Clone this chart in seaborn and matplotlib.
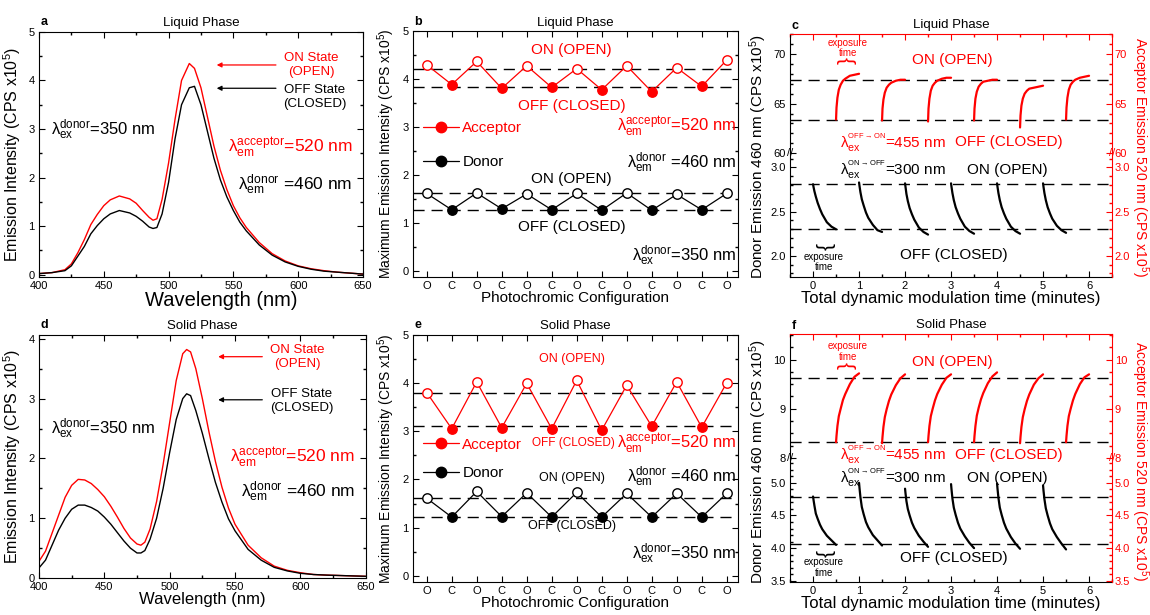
import matplotlib
matplotlib.use('Agg')
import pandas as pd
import matplotlib.pyplot as plt
import seaborn as sns
from matplotlib.ticker import MultipleLocator
from matplotlib.lines import Line2D

# ---- emission spectra (x10^5 CPS) ----
wl_liq = [400, 410, 420, 425, 430, 435, 440, 445, 450, 455, 462, 470, 475, 480, 485, 488, 491, 495,
          500, 505, 510, 516, 520, 525, 530, 535, 540, 545, 550, 555, 560, 570, 580, 590, 600,
          610, 620, 630, 640, 650]
liq_on = [0.02, 0.04, 0.10, 0.22, 0.45, 0.72, 1.03, 1.24, 1.42, 1.54, 1.62, 1.56, 1.47, 1.32, 1.18,
          1.12, 1.15, 1.55, 2.30, 3.20, 4.00, 4.35, 4.25, 3.85, 3.25, 2.65, 2.15, 1.75, 1.42, 1.17,
          0.97, 0.66, 0.43, 0.28, 0.18, 0.12, 0.08, 0.05, 0.03, 0.01]
liq_off = [0.02, 0.04, 0.08, 0.18, 0.38, 0.58, 0.84, 1.01, 1.15, 1.25, 1.32, 1.27, 1.20, 1.10, 0.98,
           0.95, 0.97, 1.25, 1.90, 2.80, 3.50, 3.85, 3.88, 3.50, 2.95, 2.40, 1.95, 1.60, 1.32, 1.08,
           0.90, 0.61, 0.40, 0.26, 0.17, 0.11, 0.07, 0.05, 0.03, 0.01]

wl_sol = [400, 405, 410, 415, 420, 425, 430, 435, 440, 445, 450, 455, 460, 465, 470, 475, 478, 481,
          485, 490, 495, 500, 505, 510, 513, 516, 520, 525, 530, 535, 540, 545, 550, 560, 570, 580,
          590, 600, 610, 620, 635, 650]
sol_on = [0.28, 0.45, 0.75, 1.05, 1.35, 1.55, 1.65, 1.64, 1.58, 1.48, 1.36, 1.20, 1.02, 0.83, 0.67,
          0.57, 0.55, 0.60, 0.82, 1.28, 1.90, 2.60, 3.30, 3.75, 3.82, 3.78, 3.50, 3.00, 2.45, 1.95,
          1.52, 1.17, 0.90, 0.55, 0.34, 0.20, 0.13, 0.09, 0.06, 0.05, 0.04, 0.03]
sol_off = [0.17, 0.30, 0.55, 0.80, 1.00, 1.15, 1.22, 1.22, 1.18, 1.12, 1.02, 0.90, 0.76, 0.62, 0.50,
           0.42, 0.42, 0.46, 0.65, 1.00, 1.50, 2.10, 2.65, 3.00, 3.08, 3.05, 2.80, 2.42, 2.00, 1.60,
           1.27, 0.99, 0.79, 0.48, 0.30, 0.18, 0.12, 0.08, 0.06, 0.05, 0.04, 0.03]

# ---- maximum emission vs configuration ----
config = ['O', 'C', 'O', 'C', 'O', 'C', 'O', 'C', 'O', 'C', 'O', 'C', 'O']
liq_acc = [4.30, 3.89, 4.37, 3.81, 4.28, 3.83, 4.22, 3.78, 4.28, 3.74, 4.24, 3.85, 4.40]
liq_don = [1.62, 1.28, 1.63, 1.30, 1.61, 1.28, 1.62, 1.27, 1.63, 1.27, 1.60, 1.28, 1.62]
sol_acc = [3.80, 3.05, 4.02, 3.07, 3.99, 3.05, 4.05, 3.02, 3.95, 3.10, 4.02, 3.08, 4.00]
sol_don = [1.61, 1.22, 1.75, 1.23, 1.72, 1.22, 1.73, 1.22, 1.71, 1.22, 1.71, 1.22, 1.71]
liq_levels = [4.22, 3.83, 1.62, 1.28]
sol_levels = [3.80, 3.10, 1.61, 1.22]

# ---- dynamic modulation traces ----
t_rel = [0, 0.01, 0.03, 0.06, 0.1, 0.15, 0.2, 0.3, 0.4, 0.5]
acc_start = [0.5, 1.5, 2.5, 3.5, 4.5, 5.5]
don_start = [0, 1, 2, 3, 4, 5]
liq_acc_kin = [
    [63.4, 64.6, 65.6, 66.4, 66.9, 67.3, 67.5, 67.8, 67.9, 68.0],
    [63.3, 64.5, 65.4, 66.1, 66.6, 66.9, 67.1, 67.3, 67.4, 67.4],
    [63.2, 64.5, 65.5, 66.3, 66.8, 67.1, 67.3, 67.5, 67.6, 67.6],
    [63.3, 64.5, 65.5, 66.2, 66.7, 67.0, 67.2, 67.3, 67.4, 67.4],
    [62.6, 63.8, 64.8, 65.5, 66.0, 66.3, 66.5, 66.6, 66.7, 66.8],
    [63.4, 64.6, 65.6, 66.4, 66.9, 67.2, 67.4, 67.6, 67.7, 67.8],
]
liq_don_kin = [
    [2.81, 2.78, 2.73, 2.67, 2.60, 2.53, 2.47, 2.38, 2.33, 2.30],
    [2.83, 2.79, 2.72, 2.64, 2.57, 2.49, 2.43, 2.35, 2.29, 2.27],
    [2.82, 2.78, 2.70, 2.62, 2.54, 2.47, 2.41, 2.32, 2.27, 2.24],
    [2.82, 2.78, 2.71, 2.63, 2.55, 2.48, 2.42, 2.33, 2.28, 2.25],
    [2.82, 2.78, 2.71, 2.63, 2.55, 2.48, 2.42, 2.33, 2.28, 2.25],
    [2.82, 2.78, 2.71, 2.63, 2.55, 2.48, 2.42, 2.34, 2.29, 2.26],
]
sol_acc_kin = [
    [8.32, 8.45, 8.65, 8.85, 9.00, 9.18, 9.30, 9.50, 9.65, 9.72],
    [8.30, 8.43, 8.63, 8.83, 8.99, 9.16, 9.29, 9.48, 9.62, 9.70],
    [8.32, 8.45, 8.65, 8.85, 9.00, 9.17, 9.30, 9.49, 9.63, 9.70],
    [8.32, 8.45, 8.65, 8.86, 9.02, 9.19, 9.32, 9.52, 9.66, 9.74],
    [8.30, 8.43, 8.63, 8.83, 8.99, 9.16, 9.29, 9.49, 9.62, 9.70],
    [8.32, 8.45, 8.65, 8.85, 9.00, 9.17, 9.30, 9.50, 9.64, 9.70],
]
sol_don_kin = [
    [4.79, 4.74, 4.65, 4.53, 4.45, 4.36, 4.29, 4.19, 4.12, 4.05],
    [5.00, 4.92, 4.78, 4.63, 4.52, 4.40, 4.32, 4.20, 4.12, 4.04],
    [4.91, 4.84, 4.72, 4.60, 4.50, 4.39, 4.31, 4.19, 4.10, 4.02],
    [4.98, 4.90, 4.76, 4.62, 4.51, 4.39, 4.30, 4.18, 4.08, 4.00],
    [4.99, 4.91, 4.77, 4.62, 4.51, 4.39, 4.30, 4.17, 4.07, 3.99],
    [4.96, 4.88, 4.75, 4.61, 4.50, 4.38, 4.29, 4.17, 4.07, 3.98],
]
liq_kin_levels = ([67.4, 63.4], [2.81, 2.30])
sol_kin_levels = ([9.62, 8.32], [4.78, 4.065])

sns.set_theme(style='ticks', rc={
    'axes.edgecolor': 'black', 'axes.linewidth': 0.8, 'xtick.color': 'black',
    'ytick.color': 'black', 'text.color': 'black', 'axes.labelcolor': 'black',
    'xtick.direction': 'in', 'ytick.direction': 'in',
    'xtick.major.size': 4, 'ytick.major.size': 4, 'xtick.minor.size': 2, 'ytick.minor.size': 2,
    'xtick.major.width': 0.8, 'ytick.major.width': 0.8,
    'xtick.labelsize': 8, 'ytick.labelsize': 8,
    'xtick.major.pad': 3, 'ytick.major.pad': 3,
})
plt.rcParams['font.family'] = ['Liberation Sans', 'DejaVu Sans']
plt.rcParams['mathtext.fontset'] = 'custom'
plt.rcParams['mathtext.rm'] = 'Liberation Sans'
plt.rcParams['mathtext.default'] = 'regular'

RED = '#ff0000'
DASH = (8, 5)

fig = plt.figure(figsize=(11.5, 6.15), dpi=100)


def head(ax, letter, title):
    ax.text(0.005, 1.015, letter, transform=ax.transAxes, fontsize=9, fontweight='bold',
            ha='left', va='bottom')
    ax.set_title(title, fontsize=9.5, pad=4)


def all_ticks(ax):
    ax.tick_params(which='both', top=True, right=True)


def spectrum_panel(rect, wl, on, off, letter, title, ylim, yticks, lab):
    ax = fig.add_axes(rect)
    df = pd.DataFrame({'wl': wl * 2, 'I': on + off,
                       'state': ['ON'] * len(wl) + ['OFF'] * len(wl)})
    sns.lineplot(data=df, x='wl', y='I', hue='state', palette={'ON': RED, 'OFF': 'black'},
                 estimator=None, sort=False, lw=1.0, legend=False, ax=ax)
    ax.set_xlim(400, 650)
    ax.set_ylim(*ylim)
    ax.set_yticks(yticks)
    ax.xaxis.set_major_locator(MultipleLocator(50))
    ax.xaxis.set_minor_locator(MultipleLocator(25))
    ax.yaxis.set_minor_locator(MultipleLocator(0.5))
    all_ticks(ax)
    ax.set_xlabel('Wavelength (nm)', fontsize=lab['xl_fs'], labelpad=0)
    ax.xaxis.label.set_x(lab['xl_x'])
    ax.set_ylabel('Emission Intensity (CPS x10$^5$)', fontsize=11.5, labelpad=4)
    head(ax, letter, title)
    ax.annotate('', xy=(535, lab['on_y']), xytext=(lab['arr_x'], lab['on_y']),
                arrowprops=dict(arrowstyle='-|>', color=RED, lw=0.9, mutation_scale=7))
    ax.annotate('', xy=(535, lab['off_y']), xytext=(lab['arr_x'], lab['off_y']),
                arrowprops=dict(arrowstyle='-|>', color='black', lw=0.9, mutation_scale=7))
    ax.text(lab['txt_x'], lab['on_y'], 'ON State\n(OPEN)', color=RED, fontsize=9.5,
            ha='center', va='center', linespacing=1.25)
    ax.text(lab['txt_x'] + 3, lab['off_ty'], 'OFF State\n(CLOSED)', color='black', fontsize=9.5,
            ha='center', va='center', linespacing=1.25)
    ax.text(409, lab['ex_y'], r'$\lambda_{ex}^{donor}$=350 nm', fontsize=12, va='center')
    ax.text(642, lab['acc_y'], r'$\lambda_{em}^{acceptor}$=520 nm', fontsize=12.5, color=RED,
            va='center', ha='right')
    ax.text(642, lab['don_y'], r'$\lambda_{em}^{donor}$ =460 nm', fontsize=12.5,
            va='center', ha='right')
    return ax


def config_panel(rect, acc, don, levels, letter, title, lab):
    ax = fig.add_axes(rect)
    pos = list(range(len(config)))
    for vals, col in [(acc, RED), (don, 'black')]:
        df = pd.DataFrame({'pos': pos, 'val': vals, 'cfg': config})
        sns.lineplot(data=df, x='pos', y='val', color=col, lw=0.9, ax=ax)
        op = df[df['cfg'] == 'O']
        cl = df[df['cfg'] == 'C']
        sns.scatterplot(data=op, x='pos', y='val', s=46, facecolor='white', edgecolor=col,
                        linewidth=1.0, zorder=4, ax=ax)
        sns.scatterplot(data=cl, x='pos', y='val', s=46, color=col, edgecolor=col,
                        linewidth=1.0, zorder=4, ax=ax)
    for y in levels:
        ax.axhline(y, color='black', lw=1.0, dashes=DASH, zorder=1)
    ax.set_xlim(-0.55, 12.45)
    ax.set_ylim(-0.12, 5)
    ax.set_xticks(pos)
    ax.set_xticklabels(config)
    ax.set_yticks([0, 1, 2, 3, 4, 5])
    ax.yaxis.set_minor_locator(MultipleLocator(0.5))
    all_ticks(ax)
    ax.set_xlabel('Photochromic Configuration', fontsize=11, labelpad=0)
    ax.set_ylabel('Maximum Emission Intensity (CPS x10$^5$)', fontsize=10, labelpad=4)
    head(ax, letter, title)
    handles = [Line2D([], [], color=RED, lw=0.9, marker='o', ms=7.5),
               Line2D([], [], color='black', lw=0.9, marker='o', ms=7.5)]
    ax.legend(handles, ['Acceptor', 'Donor'], loc='center left',
              bbox_to_anchor=(0.03, lab['leg_y']), frameon=False, fontsize=11,
              handlelength=2.4, handletextpad=0.2, labelspacing=lab['leg_sp'],
              borderpad=0, borderaxespad=0, labelcolor=[RED, 'black'])
    fs = lab['fs_state']
    ax.text(5.8, lab['acc_on'], 'ON (OPEN)', color=RED, fontsize=fs[0], ha='center',
            va='center')
    ax.text(lab['acc_off_x'], lab['acc_off'], 'OFF (CLOSED)', color=RED, fontsize=fs[1],
            ha='center', va='center')
    ax.text(5.8, lab['don_on'], 'ON (OPEN)', fontsize=fs[2], ha='center', va='center')
    ax.text(5.8, lab['don_off'], 'OFF (CLOSED)', fontsize=fs[3], ha='center', va='center')
    ax.text(12.4, lab['acc_lam'], r'$\lambda_{em}^{acceptor}$=520 nm', color=RED, fontsize=12,
            ha='right', va='center')
    ax.text(12.4, lab['don_lam'], r'$\lambda_{em}^{donor}$ =460 nm', fontsize=12,
            ha='right', va='center')
    ax.text(12.4, lab['ex_lam'], r'$\lambda_{ex}^{donor}$=350 nm', fontsize=12,
            ha='right', va='center')
    return ax


def kin_frame(df, ax, col):
    sns.lineplot(data=df, x='t', y='v', units='seg', estimator=None, sort=False, color=col,
                 lw=1.6, ax=ax)


def kin_df(starts, segs):
    rows = []
    for k, (s, seg) in enumerate(zip(starts, segs)):
        for dt, v in zip(t_rel, seg):
            rows.append({'t': s + dt, 'v': v, 'seg': k})
    return pd.DataFrame(rows)


def kinetics_panel(rect_t, rect_b, acc_kin, don_kin, levels, ylim_t, ylim_b, yt_t, yt_b,
                   minor_t, minor_b, letter, title, lab, ylab_y):
    ax_t = fig.add_axes(rect_t)
    ax_b = fig.add_axes(rect_b, sharex=ax_t)
    ax_b.set_facecolor('none')
    kin_frame(kin_df(acc_start, acc_kin), ax_t, RED)
    kin_frame(kin_df(don_start, don_kin), ax_b, 'black')
    for y in levels[0]:
        ax_t.axhline(y, color='black', lw=1.0, dashes=DASH, zorder=1)
    for y in levels[1]:
        ax_b.axhline(y, color='black', lw=1.0, dashes=DASH, zorder=1)
    ax_t.set_xlim(-0.5, 6.5)
    ax_b.xaxis.set_major_locator(MultipleLocator(1))
    ax_b.xaxis.set_minor_locator(MultipleLocator(0.5))
    for ax, yl, yt, mn in [(ax_t, ylim_t, yt_t, minor_t), (ax_b, ylim_b, yt_b, minor_b)]:
        ax.set_ylim(*yl)
        ax.set_yticks(yt)
        ax.yaxis.set_minor_locator(MultipleLocator(mn))
        ax.spines['right'].set_visible(False)
        ax.set_xlabel('')
        ax.set_ylabel('')
        tw = ax.twinx()
        tw.set_ylim(*yl)
        tw.set_yticks(yt)
        tw.yaxis.set_minor_locator(MultipleLocator(mn))
        for side in ['left', 'top', 'bottom']:
            tw.spines[side].set_visible(False)
        tw.spines['right'].set_color(RED)
        tw.tick_params(axis='y', which='both', colors=RED, direction='in', pad=2)
    ax_t.spines['bottom'].set_visible(False)
    ax_t.spines['top'].set_color(RED)
    ax_t.tick_params(axis='x', which='both', bottom=False, top=True, labelbottom=False,
                     color=RED)
    ax_b.spines['top'].set_visible(False)
    ax_b.tick_params(axis='x', which='both', bottom=True, top=False)
    ax_b.set_xlabel('Total dynamic modulation time (minutes)', fontsize=12, labelpad=0)
    ax_b.text(0, 1, '//', transform=ax_b.transAxes, ha='center', va='center', fontsize=8)
    ax_b.text(1, 1, '//', transform=ax_b.transAxes, ha='center', va='center', fontsize=8,
              color=RED)
    head(ax_t, letter, title)
    fig.text(0.659, ylab_y, 'Donor Emission 460 nm (CPS x10$^5$)', rotation=90, fontsize=11,
             ha='center', va='center')
    fig.text(0.9915, ylab_y, 'Acceptor Emission 520 nm (CPS x10$^5$)', rotation=-90,
             fontsize=10, ha='center', va='center', color=RED)
    # annotations
    ax_t.text(3.02, lab['on_t'], 'ON (OPEN)', color=RED, fontsize=11, ha='center', va='center')
    ax_t.text(0.58, lab['lam_t'], r'$\lambda_{ex}^{{}^{OFF\rightarrow ON}}$=455 nm', color=RED,
              fontsize=11, ha='left', va='center')
    ax_t.text(4.25, lab['lam_t'], 'OFF (CLOSED)', color=RED, fontsize=11, ha='center',
              va='center')
    ax_b.text(0.58, lab['lam_b'], r'$\lambda_{ex}^{{}^{ON\rightarrow OFF}}$=300 nm',
              fontsize=11, ha='left', va='center')
    ax_b.text(4.22, lab['lam_b'], 'ON (OPEN)', fontsize=11, ha='center', va='center')
    ax_b.text(3.05, lab['off_b'], 'OFF (CLOSED)', fontsize=11, ha='center', va='center')
    ax_t.text(0.75, lab['exp_t'], 'exposure\ntime', color=RED, fontsize=7, ha='center',
              va='center', linespacing=1.1)
    ax_t.text(0.75, lab['brace_t'], '}', color=RED, fontsize=15, rotation=90, ha='center',
              va='center', rotation_mode='anchor')
    ax_b.text(0.24, lab['exp_b'], 'exposure\ntime', fontsize=7, ha='center', va='center',
              linespacing=1.1)
    ax_b.text(0.25, lab['brace_b'], '}', fontsize=15, rotation=-90, ha='center',
              va='center', rotation_mode='anchor')


spectrum_panel([0.0339, 0.5496, 0.2817, 0.3984], wl_liq, liq_on, liq_off, 'a', 'Liquid Phase',
               (-0.05, 5), [0, 1, 2, 3, 4, 5],
               dict(on_y=4.32, off_y=3.84, off_ty=3.66, arr_x=585, txt_x=610, ex_y=2.98,
                    acc_y=2.6, don_y=1.86, xl_fs=14.5, xl_x=0.564))
spectrum_panel([0.0339, 0.06, 0.2841, 0.396], wl_sol, sol_on, sol_off, 'd', 'Solid Phase',
               (0, 4.07), [0, 1, 2, 3, 4],
               dict(on_y=3.70, off_y=2.98, off_ty=2.96, arr_x=573, txt_x=598, ex_y=2.49,
                    acc_y=2.01, don_y=1.44, xl_fs=12, xl_x=0.5))

config_panel([0.3591, 0.5496, 0.2826, 0.3996], liq_acc, liq_don, liq_levels, 'b',
             'Liquid Phase',
             dict(leg_y=0.537, leg_sp=1.3, fs_state=(11, 11, 11, 11), acc_on=4.6,
                  acc_off=3.45, acc_off_x=5.8, don_on=1.92, don_off=0.93, acc_lam=3.0,
                  don_lam=2.25, ex_lam=0.33))
config_panel([0.3591, 0.054, 0.2826, 0.402], sol_acc, sol_don, sol_levels, 'e', 'Solid Phase',
             dict(leg_y=0.497, leg_sp=0.95, fs_state=(9, 8.5, 9, 9), acc_on=4.5,
                  acc_off=2.76, acc_off_x=5.85, don_on=2.02, don_off=1.03, acc_lam=2.74,
                  don_lam=2.05, ex_lam=0.47))

kinetics_panel([0.687, 0.7507, 0.28, 0.194], [0.687, 0.5496, 0.28, 0.2011], liq_acc_kin,
               liq_don_kin, liq_kin_levels, (60, 72.0), (1.76, 3.16), [60, 65, 70],
               [2.0, 2.5, 3.0], 1, 0.1, 'c', 'Liquid Phase',
               dict(on_t=69.4, lam_t=61.1, lam_b=2.97, off_b=2.01, exp_t=70.6, brace_t=69.3,
                    exp_b=1.93, brace_b=2.11), 0.745)
kinetics_panel([0.687, 0.2553, 0.28, 0.2016], [0.687, 0.0535, 0.28, 0.2018], sol_acc_kin,
               sol_don_kin, sol_kin_levels, (8, 10.52), (3.48, 5.38), [8, 9, 10],
               [3.5, 4.0, 4.5, 5.0], 0.25, 0.1, 'f', 'Solid Phase',
               dict(on_t=9.95, lam_t=8.07, lam_b=5.08, off_b=3.85, exp_t=10.17, brace_t=9.87,
                    exp_b=3.7, brace_b=3.92), 0.25)

fig.savefig('out.png', dpi=100)
